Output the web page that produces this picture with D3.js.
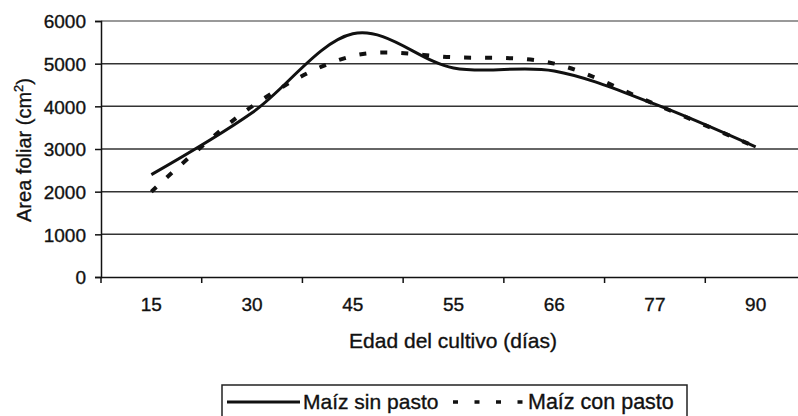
<!DOCTYPE html>
<html>
<head>
<meta charset="utf-8">
<script src="https://cdn.jsdelivr.net/npm/d3@7"></script>
<style>
  html, body { margin: 0; padding: 0; background: #fff; overflow: hidden; }
  svg { display: block; font-family: "Liberation Sans", Arial, sans-serif; }
  svg text { stroke: #111; stroke-width: 0.35px; }
</style>
</head>
<body>
<div id="chart"></div>
<script>
// data
const categories = ['15', '30', '45', '55', '66', '77', '90'];
const sinPasto = [2400, 3850, 5700, 4900, 4830, 4050, 3050];
const conPasto = [2000, 4000, 5180, 5150, 5000, 4050, 3050];
const yTicks = [0, 1000, 2000, 3000, 4000, 5000, 6000];

const width = 798;
const height = 416;
const plot = { left: 101, top: 21, right: 806, bottom: 277 };

const svg = d3.select('#chart')
    .append('svg')
    .attr('width', width)
    .attr('height', height);

const x = d3.scaleBand()
    .domain(categories)
    .range([plot.left, plot.right])
    .padding(0);

const y = d3.scaleLinear()
    .domain([0, 6000])
    .range([plot.bottom, plot.top]);

// gridlines
svg.append('g')
    .selectAll('line')
    .data(yTicks.slice(1))
    .join('line')
    .attr('x1', plot.left)
    .attr('x2', plot.right)
    .attr('y1', (d) => y(d))
    .attr('y2', (d) => y(d))
    .attr('stroke', (d) => d === 6000 ? '#777' : '#333')
    .attr('stroke-width', 1.5);

// y axis
const yAxis = svg.append('g')
    .attr('transform', `translate(${plot.left},0)`)
    .call(d3.axisLeft(y).tickValues(yTicks).tickSize(6).tickPadding(9)
        .tickFormat(d3.format('d')));
yAxis.select('.domain').attr('stroke', '#111').attr('stroke-width', 1.5);
yAxis.selectAll('.tick line').attr('stroke', '#111').attr('stroke-width', 1.5);
yAxis.selectAll('text')
    .attr('font-size', 19)
    .attr('fill', '#111')
    .attr('dy', '0.36em');

// x axis, ticks on band boundaries
const xAxis = svg.append('g')
    .attr('transform', `translate(0,${plot.bottom})`)
    .call(d3.axisBottom(x).tickSize(0).tickPadding(21));
xAxis.select('.domain').attr('stroke', '#111').attr('stroke-width', 1.5);
xAxis.selectAll('text')
    .attr('font-size', 19)
    .attr('fill', '#111');
xAxis.selectAll('.bound')
    .data(categories.map((c) => x(c)).concat([plot.right]))
    .join('line')
    .attr('class', 'bound')
    .attr('x1', (d) => d)
    .attr('x2', (d) => d)
    .attr('y1', 0)
    .attr('y2', 6)
    .attr('stroke', '#111')
    .attr('stroke-width', 1.5);

// axis titles
svg.append('text')
    .attr('x', 453)
    .attr('y', 348)
    .attr('text-anchor', 'middle')
    .attr('font-size', 21)
    .attr('fill', '#111')
    .text('Edad del cultivo (días)');

const yTitle = svg.append('text')
    .attr('transform', 'translate(31,150) rotate(-90)')
    .attr('text-anchor', 'middle')
    .attr('font-size', 20)
    .attr('fill', '#111');
yTitle.append('tspan').text('Area foliar (cm');
yTitle.append('tspan').attr('font-size', 13).attr('dy', '-0.6em').text('2');
yTitle.append('tspan').attr('dy', '0.4em').text(')');

// lines
const line = d3.line()
    .x((d, i) => x(categories[i]) + x.bandwidth() / 2)
    .y((d) => y(d))
    .curve(d3.curveCatmullRom.alpha(0));

svg.append('path')
    .datum(conPasto)
    .attr('fill', 'none')
    .attr('stroke', '#111')
    .attr('stroke-width', 4)
    .attr('stroke-dasharray', '7 14')
    .attr('d', line);

svg.append('path')
    .datum(sinPasto)
    .attr('fill', 'none')
    .attr('stroke', '#111')
    .attr('stroke-width', 3)
    .attr('d', line);

// legend
const legend = svg.append('g');
legend.append('rect')
    .attr('x', 222)
    .attr('y', 385)
    .attr('width', 465)
    .attr('height', 40)
    .attr('fill', '#fff')
    .attr('stroke', '#222')
    .attr('stroke-width', 1.5);
legend.append('line')
    .attr('x1', 227).attr('x2', 300)
    .attr('y1', 402).attr('y2', 402)
    .attr('stroke', '#111').attr('stroke-width', 3);
legend.append('text')
    .attr('x', 303).attr('y', 409)
    .attr('font-size', 21)
    .attr('fill', '#111')
    .text('Maíz sin pasto');
legend.append('line')
    .attr('x1', 453).attr('x2', 524)
    .attr('y1', 402).attr('y2', 402)
    .attr('stroke', '#111').attr('stroke-width', 3.5)
    .attr('stroke-dasharray', '5 16.5');
legend.append('text')
    .attr('x', 528).attr('y', 409)
    .attr('font-size', 21.5)
    .attr('fill', '#111')
    .text('Maíz con pasto');
</script>
</body>
</html>
